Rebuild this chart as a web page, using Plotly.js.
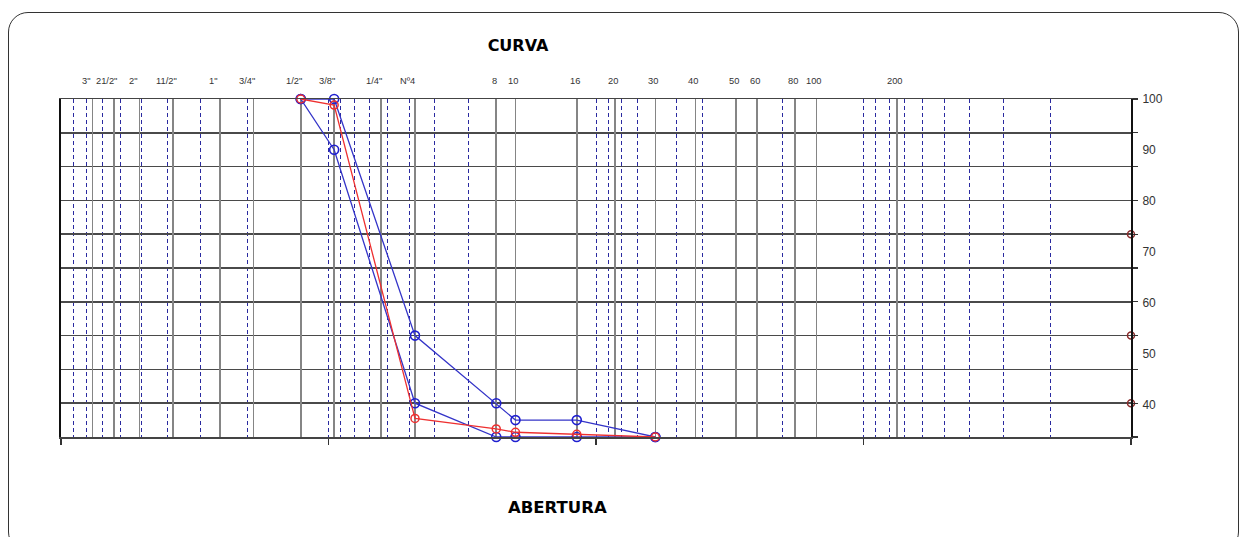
<!DOCTYPE html>
<html>
<head>
<meta charset="utf-8">
<script src="https://cdn.plot.ly/plotly-3.0.1.min.js"></script>
<style>
  html, body { margin: 0; padding: 0; background: #ffffff; overflow: hidden; }
  #frame { position: absolute; left: 8px; top: 12px; width: 1231px; height: 540px;
           border: 1px solid #333; border-radius: 20px; box-sizing: border-box; }
  #chart { position: absolute; left: 0; top: 0; width: 1242px; height: 537px; }
</style>
</head>
<body>
<div id="frame"></div>
<div id="chart"></div>
<script>
// Sieve openings (mm) and their labels along the top axis
var sieveLabels = ['3"', '21/2"', '2"', '11/2"', '1"', '3/4"', '1/2"', '3/8"', '1/4"', 'Nº4',
                   '8', '10', '16', '20', '30', '40', '50', '60', '80', '100', '200'];
var sieveSizes  = [76.2, 63.5, 50.8, 38.1, 25.4, 19.05, 12.7, 9.525, 6.35, 4.75,
                   2.36, 2.0, 1.18, 0.85, 0.6, 0.425, 0.3, 0.25, 0.18, 0.15, 0.075];

// Sieves used by the curves (mm)
var curveSizes = [12.7, 9.525, 4.75, 2.36, 2.0, 1.18, 0.6];
// % passing
var upperLimit = [100, 100, 30, 10, 5, 5, 0];
var lowerLimit = [100, 85, 10, 0, 0, 0, 0];
var sample     = [100, 98.2, 5.5, 2.4, 1.4, 0.8, 0];

// Markers on the right edge
var edgeSizes  = [0.01, 0.01, 0.01];
var edgeValues = [60, 30, 10];

// Right-hand axis labels
var rightTicks = [40, 50, 60, 70, 80, 90, 100];

// log grid (2..9 x 10^n) between 0.01 and 100 mm (decades come from the major ticks)
var minorVals = [];
[0.01, 0.1, 1, 10].forEach(function (d) {
  for (var k = 2; k <= 9; k++) minorVals.push(k * d);
});
var decades = [100, 10, 1, 0.1, 0.01];

var blueLine = '#3434c8';
var blueMark = '#1f1fd0';
var redLine = '#ee3030';

var traces = [
  { x: curveSizes, y: upperLimit, type: 'scatter', mode: 'lines+markers', cliponaxis: false,
    line: { color: blueLine, width: 1.3 },
    marker: { symbol: 'circle-open', size: 9, color: blueMark, line: { width: 1.6, color: blueMark } } },
  { x: curveSizes, y: lowerLimit, type: 'scatter', mode: 'lines+markers', cliponaxis: false,
    line: { color: blueLine, width: 1.3 },
    marker: { symbol: 'circle-open', size: 9, color: blueMark, line: { width: 1.6, color: blueMark } } },
  { x: curveSizes, y: sample, type: 'scatter', mode: 'lines+markers', cliponaxis: false,
    line: { color: redLine, width: 1.3 },
    marker: { symbol: 'circle-open', size: 8, color: redLine, line: { width: 1.5, color: redLine } } },
  { x: edgeSizes, y: edgeValues, type: 'scatter', mode: 'markers', cliponaxis: false,
    marker: { symbol: 'circle-open', size: 7, color: '#8b2b2b', line: { width: 1.5, color: '#8b2b2b' } } }
];

var xRange = [Math.log10(100), Math.log10(0.01)];

// sieve labels above the plot (inch labels sit slightly left of their line)
var sieveAnnotations = sieveLabels.map(function (lab, i) {
  var isInch = i < 10;
  return {
    text: lab, xref: 'x', yref: 'paper', x: Math.log10(sieveSizes[i]), y: 1 + 18 / 338,
    xanchor: 'center', yanchor: 'middle', xshift: isInch ? -7 : -2,
    showarrow: false, font: { family: 'Liberation Sans, Arial', size: 9.3, color: '#333' }
  };
});

var layout = {
  width: 1242, height: 537,
  margin: { l: 61, r: 111, t: 99, b: 100 },
  paper_bgcolor: 'rgba(0,0,0,0)',
  plot_bgcolor: 'rgba(0,0,0,0)',
  showlegend: false,
  title: { text: '<b>CURVA</b>', font: { family: 'DejaVu Sans', size: 16, color: '#000' },
           x: 518 / 1242, xanchor: 'center', xref: 'container',
           y: 1 - 45 / 537, yanchor: 'middle', yref: 'container' },
  xaxis: {
    type: 'log', range: xRange, tickmode: 'array', tickvals: decades,
    showticklabels: false, ticks: 'outside', ticklen: 6, tickwidth: 1.3, tickcolor: '#333',
    showgrid: true, gridcolor: '#2a2aa0', gridwidth: 1, griddash: '4px,3px',
    minor: { tickmode: 'array', tickvals: minorVals, showgrid: true, gridcolor: '#2a2aa0',
             gridwidth: 1, griddash: '4px,3px', ticks: '' },
    showline: true, linecolor: '#444', linewidth: 1.5, zeroline: false
  },
  xaxis2: {
    type: 'log', range: xRange, overlaying: 'x', side: 'top', anchor: 'y',
    tickmode: 'array', tickvals: sieveSizes, showticklabels: false, ticks: '',
    showgrid: true, gridcolor: '#858585', gridwidth: 1.6,
    showline: true, linecolor: '#444', linewidth: 1.5, zeroline: false
  },
  yaxis: {
    range: [0, 100], dtick: 10, side: 'right',
    showticklabels: false, ticks: 'outside', ticklen: 5, tickwidth: 1.3, tickcolor: '#333',
    showgrid: true, gridcolor: '#4a4a4a', gridwidth: 1.6,
    showline: true, linecolor: '#111', linewidth: 2, mirror: true, zeroline: false
  },
  yaxis2: {
    range: [33.7, 100], overlaying: 'y', side: 'right', tickmode: 'array', tickvals: rightTicks,
    ticks: 'outside', ticklen: 8, tickcolor: 'rgba(0,0,0,0)',
    tickfont: { family: 'Liberation Sans, Arial', size: 12, color: '#333' },
    showgrid: false, showline: false, zeroline: false
  },
  annotations: [
    { text: '<b>ABERTURA</b>', xref: 'paper', yref: 'paper',
      x: (557 - 61) / 1070, y: -(507 - 437) / 338, xanchor: 'center', yanchor: 'middle',
      showarrow: false, font: { family: 'DejaVu Sans', size: 16.5, color: '#000' } }
  ].concat(sieveAnnotations)
};

// invisible trace to bind the secondary axes
traces.push({ x: [100], y: [100], xaxis: 'x2', yaxis: 'y2', type: 'scatter', mode: 'markers',
              marker: { opacity: 0 }, hoverinfo: 'skip' });

Plotly.newPlot('chart', traces, layout, { displayModeBar: false, staticPlot: true });
</script>
</body>
</html>
